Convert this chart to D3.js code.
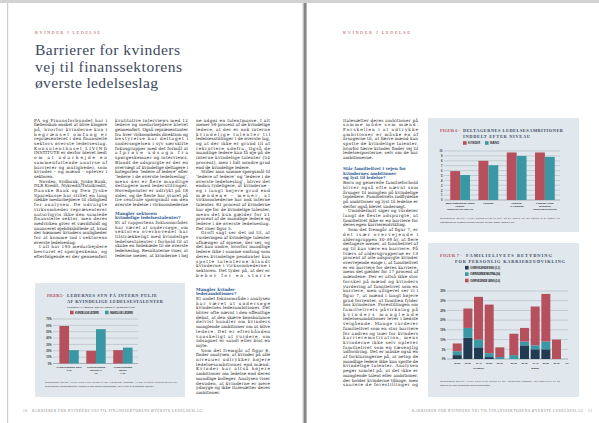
<!DOCTYPE html>
<html lang="da"><head><meta charset="utf-8">
<script src="https://cdn.jsdelivr.net/npm/d3@7/dist/d3.min.js"></script>
<style>html,body{margin:0;padding:0;background:#fff;overflow:hidden}svg{display:block}</style>
</head><body>
<svg id="page" width="599" height="423"></svg>
<script>
// ---------- Figure 5 data ----------
const fig5Categories = ["OVERVEJENDE ENIG|(1-2)", "OVERVEJENDE|NEUTRAL|(3)", "OVERVEJENDE|UENIG|(4-5)"];
const fig5Series = ["KVINDELIGE LEDERE", "MANDLIGE LEDERE"];
const fig5Women = [59, 20, 21];
const fig5Men = [21, 54, 25];
const fig5Ticks = [0, 10, 20, 30, 40, 50, 60, 70];
// ---------- Figure 6 data ----------
const fig6Categories = ["MEDARBEJDERE UDEN|LEDER-|PERSONALEANSVAR", "LEDERE", "LEDERE|AF LEDERE", "LEDERE I DEN|ØVERSTE|LEDELSESGRUPPE"];
const fig6Series = ["KVINDER", "MÆND"];
const fig6Women = [5.9, 8.0, 9.7, 9.7];
const fig6Men = [5.1, 7.1, 9.0, 8.8];
const fig6Ticks = [0, 1, 2, 3, 4, 5, 6, 7, 8, 9, 10];
// ---------- Figure 7 data ----------
const fig7Groups = ["KVINDER", "MÆND"];
const fig7Ages = ["20-29", "30-39", "40-49", "50-59", "60-69"];
const fig7ExtraTick = "70+";
const fig7Series = ["OVERVEJENDE ENIG (1-2)", "OVERVEJENDE NEUTRAL (3-4)", "OVERVEJENDE UENIG (5-6)"];
const fig7WomenAgree    = [2, 11, 6, 1, 0];
const fig7WomenNeutral  = [2, 5, 4, 2, 1];
const fig7WomenDisagree = [4, 10, 22, 25, 5];
const fig7MenAgree      = [0, 7, 5, 5, 0];
const fig7MenNeutral    = [2, 2, 2, 4, 0];
const fig7MenDisagree   = [11, 7, 20, 24.5, 10];
const fig7Ticks = [0, 5, 10, 15, 20, 25, 30, 35];

// ---------- styles ----------
const SERIF = "'Liberation Serif','DejaVu Serif',serif";
const BODY = "'DejaVu Serif','Liberation Serif',serif";
const SANS = "'Liberation Sans','DejaVu Sans',sans-serif";
const C = {red:'#b5505c', teal:'#3a98a5', navy:'#223a52', box:'#e0e8ee', title:'#3d4a5f',
  head:'#2f5a8c', grid:'#a7aeb5', text:'#1a1a1a', foot:'#8a8a8a', small:'#2a2a2a'};

const svg = d3.select('#page');
svg.append('rect').attr('width', 599).attr('height', 423).attr('fill', '#fff');
svg.append('rect').attr('x', 0).attr('y', 0).attr('width', 599).attr('height', 3).attr('fill', '#d2d2d2');
svg.append('rect').attr('x', 7).attr('y', 3).attr('width', 1.2).attr('height', 420).attr('fill', '#cdcdcd');
svg.append('rect').attr('x', 302.6).attr('y', 3).attr('width', 1.2).attr('height', 420).attr('fill', '#c2c2c2');
svg.append('rect').attr('x', 303.8).attr('y', 3).attr('width', 2.8).attr('height', 420).attr('fill', '#858585');

// ---------- headers, title, footers ----------
function fitText(g, x, y, w, txt, attrs) {
  const t = g.append('text').attr('x', x).attr('y', y).text(txt);
  Object.entries(attrs).forEach(([k, v]) => t.attr(k, v));
  if (w) t.attr('textLength', w).attr('lengthAdjust', 'spacing');
  return t;
}
const kick = {'font-family': SERIF, 'font-size': 4.4, fill: C.red};
fitText(svg, 35, 34, 65, 'KVINDER I LEDELSE', kick);
fitText(svg, 343, 34, 67, 'KVINDER I LEDELSE', kick);

const tt = {'font-family': SERIF, 'font-size': 15.6, fill: C.title};
fitText(svg, 35, 55, 145, 'Barrierer for kvinders', tt);
fitText(svg, 35, 71.5, 147, 'vej til finanssektorens', tt);
fitText(svg, 35, 88, 123, 'øverste ledelseslag', tt);

const ft = {'font-family': SERIF, 'font-size': 3.6, fill: C.foot};
fitText(svg, 23, 411.5, 179, '10  ·  BARRIERER FOR KVINDERS VEJ TIL FINANSSEKTORENS ØVERSTE LEDELSESLAG', ft);
fitText(svg, 412, 411.5, 180, 'BARRIERER FOR KVINDERS VEJ TIL FINANSSEKTORENS ØVERSTE LEDELSESLAG  ·  11', ft);

// ---------- body text ----------
const FS = 4.2, LH = 4.7, BASE = 3.5, IND = 5;
const meas = svg.append('text').attr('font-family', BODY).attr('font-size', FS).attr('visibility', 'hidden');
function tw(s, bold) { meas.attr('font-weight', bold ? 'bold' : 'normal').text(s); return meas.node().getComputedTextLength(); }

function flow(seg) {
  const g = svg.append('g').attr('font-family', BODY).attr('font-size', FS).attr('fill', C.text);
  let y = seg.y;
  const fits = () => y + LH <= seg.maxY + 0.6;
  seg.blocks.forEach(b => {
    if (b.h) {
      b.h.forEach(line => {
        if (!fits()) return;
        g.append('text').attr('x', seg.x).attr('y', y + BASE).attr('font-weight', 'bold').attr('fill', C.head).text(line);
        y += LH;
      });
      return;
    }
    const words = b.p.split(/\s+/).filter(Boolean);
    let i = 0, first = true;
    while (i < words.length && fits()) {
      const ind = (first && b.indent) ? IND : 0;
      const avail = seg.w - ind;
      const line = [words[i]]; i++;
      while (i < words.length && tw(line.concat(words[i]).join(' ')) <= avail) { line.push(words[i]); i++; }
      const t = g.append('text').attr('x', seg.x + ind).attr('y', y + BASE).text(line.join(' '));
      if (i < words.length && line.length > 1) t.attr('textLength', avail).attr('lengthAdjust', 'spacing');
      y += LH; first = false;
    }
  });
}

flow({x: 34, y: 118, w: 73, maxY: 259, blocks: [
  {p: 'FA og Finansforbundet har i fællesskab ønsket at blive klogere på, hvorfor kvinderne kun i begrænset omfang er repræsenteret i den finansielle sektors øverste ledelseslag. Konsulenthuset LIVING INSTITUTE er derfor blevet bedt om at udarbejde en sammenfattende analyse af barrierer og muligheder, som kvinder – og mænd – oplever i sektoren.'},
  {indent: true, p: 'Nordea, Sydbank, Jyske Bank, DLR Kredit, Nykredit/Totalkredit, Danske Bank og Den Jyske Sparekasse har stillet en lang række medarbejdere til rådighed for analysen. De udvalgte virksomheder repræsenterer naturligvis ikke den samlede finansielle sektor, men deres medvirken giver et værdifuldt og nuanceret øjebliksbillede af, hvad der hæmmer kvinders muligheder for at komme ind i sektorens øverste ledelseslag.'},
  {indent: true, p: 'I alt har 195 medarbejdere besvaret et spørgeskema, og efterfølgende er der gennemført en række uddybende samtaler med ledere og medarbejdere fra de deltagende virksomheder, som har bidraget med deres erfaringer og synspunkter på emnet.'}
]});
flow({x: 115, y: 118, w: 73, maxY: 208, blocks: [
  {p: 'kvalitative interviews med 12 ledere og medarbejdere blevet gennemført. Også repræsentanter fra hver virksomheds direktion og bestyrelse har deltaget i undersøgelsen i syv særskilte fokusgrupper med det formål at afprøve udsagn fra spørgeskemaer og interviews. Blandt de adspurgte er der en overvægt af kvindelige deltagere i kategorien ‘ledere af ledere’ eller ‘ledere i de øverste ledelseslag’, mens der er flere mandlige deltagere med lederstillinger. Hovedpointer er udtrykt på 18 sider, og de fleste har svaret på tre centrale spørgsmål om den øverste ledelse i virksomhederne og deres egne erfaringer. Analysen giver dermed et bredt billede af de barrierer, som kvinder og mænd oplever på vej mod toppen af sektoren.'}
]});
flow({x: 115, y: 211, w: 73, maxY: 259, blocks: [
  {h: ['Mangler sektoren', 'kvindelige ledelsestalenter?']},
  {p: 'Et af rapportens fokusområder har været at undersøge, om sektoren overhovedet har tilstrækkeligt med kvindelige ledelsestalenter i forhold til at skabe en fødekæde til de øverste ledelseslag. Resultaterne viser, at lederne mener, at kvinderne i høj grad udgør en talentmasse for sektoren.'}
]});
flow({x: 196, y: 118, w: 74, maxY: 280, blocks: [
  {p: 'ne udgør en talentmasse. I alt mener 59 procent af de kvindelige ledere, at der er nok interne kvindelige talenter til ledelsesstillinger i de øverste lag, og at der ikke er grund til at rekruttere udefra. Også de mandlige ledere kan få øje på de interne kvindelige talenter (54 procent), men i lidt mindre grad end de kvindelige ledere.'},
  {indent: true, p: 'Stiller man samme spørgsmål til ‘ledere af ledere’ og ‘ledere i de øverste ledelseslag’, bliver det endnu tydeligere, at kvinderne – og i langt højere grad end mændene – mener, at virksomhederne har nok interne talenter. 61 procent af kvinderne har øje for de kvindelige talenter, mens det kun gælder for 21 procent af de mandlige ledere og ledere i de øverste ledelseslag. Det viser figur 5.'},
  {indent: true, p: 'Groft sagt ser det ud til, at vurderingen af kvindelige talenter afhænger af øjnene, der ser, og det kan undre, hvorfor mandlige ledere ikke i samme omfang som deres kvindelige pendanter kan spotte talenterne blandt kvinderne i virksomhederne i sektoren. Det tyder på, at der er behov for en større opmærksomhed på, hvordan talenter identificeres og udvikles, så de kvindelige talenter ikke går tabt på vejen mod de øverste ledelseslag.'}
]});
flow({x: 196, y: 287, w: 74, maxY: 398, blocks: [
  {h: ['Mangler kvinder', 'lederambitioner?']},
  {p: 'Et andet fokusområde i analysen har været at undersøge kvindernes lederambitioner. Det bliver ofte nævnt i den offentlige debat, at den skæve kønsbalance delvist handler om kvinders manglende ambitioner om at blive ledere. Det er efterhånden vanskeligt at vurdere, om udsagnet er sandt eller blot en myte.'},
  {indent: true, p: 'Som det fremgår af figur 6, finder analysen, at kvinder på alle niveauer udtrykker højere ledelsesambitioner end mænd. Kvinder har altså højere ambitioner om ledelse end deres mandlige kolleger. Analysen viser desuden, at kvinderne er mere ydmyge og ikke italesætter deres ambitioner.'}
]});
flow({x: 343, y: 118, w: 75, maxY: 161, blocks: [
  {p: 'italesætter deres ambitioner på samme måde som mænd. Forskellen i at udtrykke ambitioner er måske én af årsagerne til, at færre mænd kan spotte de kvindelige talenter, hvorfor færre kvinder finder vej til ledelsesposterne, selv om de har ambitionerne.'}
]});
flow({x: 343, y: 166.5, w: 75, maxY: 391, blocks: [
  {h: ['Står familielivet i vejen for', 'kvindernes ambitioner', 'og lyst til ledelse?']},
  {p: 'Børn og generelle familieforhold bliver også ofte nævnt som årsager til manglen på kvindelige topledere. Familielivets indflydelse på ambitioner og lyst til ledelse er derfor også blevet undersøgt.'},
  {indent: true, p: 'Umiddelbart siger og vurderer langt de fleste adspurgte, at familielivet ikke er en barriere for deres egen karriereudvikling.'},
  {indent: true, p: 'Som det fremgår af figur 7, er det især overvejende i aldersgruppen 30-39 år, at flere deltagere mener, at familielivet af og til kan være en barriere. På tværs af aldersgrupperne er 13 procent af alle adspurgte kvinder overvejende enige i, at familielivet er en barriere for deres karriere, mens det gælder for 17 procent af mændene. Der er altså ikke stor forskel på mænd og kvinders vurdering af familielivet som en barriere, men alligevel ser vi i figur 7, at mænd i langt højere grad forventer, at familien fylder hos kvinderne. Forestillingen om familielivets påvirkning på kvinders manglende ledelsesambitioner lever i bedste velgående. Mange vurderer familielivet som en stor barriere for andres og især for kvinders karrieremotivation, mens kvinderne ikke selv oplever familielivet som en væsentlig udfordring. Det er måske også én af forklaringerne på, at netop de mandlige ledere ikke kan spotte de kvindelige talenter. Analysen peger samlet på, at det ikke er manglende talent eller ambitioner, der holder kvinderne tilbage, men snarere de forestillinger og vurderinger, der præger udvælgelsen af ledere i sektoren. Det er derfor afgørende, at virksomhederne arbejder målrettet med at synliggøre og udvikle de kvindelige ledelsestalenter.'}
]});

// ---------- chart helpers ----------
function figTitle(g, o) {
  const a = {'font-family': SERIF, 'font-size': 4.4, 'font-weight': 'bold'};
  fitText(g, o.x, o.y, o.redW, 'FIGUR ' + o.n + ' ·', Object.assign({fill: C.red}, a));
  fitText(g, o.x1, o.y, o.w1, o.l1, Object.assign({fill: C.title}, a));
  fitText(g, o.x2, o.y + 6, o.w2, o.l2, Object.assign({fill: C.title}, a));
}
const lab = {'font-family': SANS, 'font-size': 2.6, fill: C.small, 'font-weight': 'bold'};
function legendItem(g, x, y, color, txt, w) {
  g.append('rect').attr('x', x).attr('y', y - 1.8).attr('width', 3.6).attr('height', 3.6).attr('fill', color);
  fitText(g, x + 5, y + 1, w, txt, lab);
}
function yGrid(g, y, ticks, x0, x1, fmt) {
  ticks.forEach(t => {
    g.append('line').attr('x1', x0).attr('x2', x1).attr('y1', y(t)).attr('y2', y(t))
      .attr('stroke', t === 0 ? '#6f777e' : C.grid).attr('stroke-width', 0.5);
  });
  const ax = g.append('g').attr('transform', `translate(${x0 - 1.5},0)`)
    .call(d3.axisLeft(y).tickValues(ticks).tickSize(0).tickPadding(0).tickFormat(fmt));
  ax.select('.domain').remove();
  ax.selectAll('text').attr('font-family', SANS).attr('font-size', 2.6).attr('font-weight', 'bold').attr('fill', C.small);
}
function catLabels(g, x, cats, y0) {
  cats.forEach(c => {
    c.split('|').forEach((l, i) => {
      g.append('text').attr('x', x(c) + x.bandwidth() / 2).attr('y', y0 + i * 2.9).attr('text-anchor', 'middle')
        .attr('font-family', SANS).attr('font-size', 2.5).attr('font-weight', 'bold').attr('fill', C.small).text(l);
    });
  });
}
function note(g, x, y, w, l1, l2) {
  const a = {'font-family': SANS, 'font-size': 2.5, fill: C.small};
  fitText(g, x, y, w, l1, a);
  fitText(g, x, y + 4.2, null, l2, a);
}

// ---------- Figure 5 ----------
{
  const g = svg.append('g');
  g.append('rect').attr('x', 35).attr('y', 283).attr('width', 150).attr('height', 114).attr('fill', C.box);
  figTitle(g, {n: 5, x: 47, y: 296.5, redW: 17, x1: 67, w1: 90, l1: 'LEDERNES SYN PÅ INTERN PULJE', x2: 67, w2: 96, l2: 'AF KVINDELIGE LEDELSESTALENTER'});
  fitText(g, 67, 307.5, 68, 'PROCENT AF LEDERE, DER SVAREDE PÅ SPØRGSMÅLET', {'font-family': SANS, 'font-size': 2.4, fill: C.small});
  legendItem(g, 70, 312.5, C.red, fig5Series[0], 24);
  legendItem(g, 105, 312.5, C.teal, fig5Series[1], 23);
  const y = d3.scaleLinear().domain([0, 70]).range([363.5, 319]);
  const x = d3.scaleBand().domain(fig5Categories).range([54, 138]).paddingInner(0.28).paddingOuter(0.2);
  const xs = d3.scaleBand().domain([0, 1]).range([0, x.bandwidth()]);
  yGrid(g, y, fig5Ticks, 53, 138, d => d + '%');
  const rows = fig5Categories.map((c, i) => ({c, v: [fig5Women[i], fig5Men[i]]}));
  rows.forEach(r => r.v.forEach((v, j) => {
    g.append('rect').attr('x', x(r.c) + xs(j)).attr('width', xs.bandwidth()).attr('y', y(v)).attr('height', y(0) - y(v))
      .attr('fill', j ? C.teal : C.red);
  }));
  catLabels(g, x, fig5Categories, 368);
  note(g, 45, 383, 132, 'Spørgsmål stillet: "Hvor enig eller uenig er du i følgende udsagn: Vi har et stort internt talent for', 'af kvindelige ledelsestalenter i forhold til den interne talentmasse, der er nok til at besætte ledelse."');
}

// ---------- Figure 6 ----------
{
  const g = svg.append('g');
  g.append('rect').attr('x', 428).attr('y', 118).attr('width', 151).attr('height', 114).attr('fill', C.box);
  figTitle(g, {n: 6, x: 440, y: 131.5, redW: 20, x1: 463, w1: 100, l1: 'DELTAGERNES LEDELSESAMBITIONER', x2: 463, w2: 67, l2: 'INDDELT EFTER NIVEAU'});
  legendItem(g, 463, 143, C.red, fig6Series[0], 12);
  legendItem(g, 485, 143, C.teal, fig6Series[1], 9);
  const y = d3.scaleLinear().domain([0, 10]).range([200, 151]);
  const x = d3.scaleBand().domain(fig6Categories).range([446, 559]).paddingInner(0.3).paddingOuter(0.15);
  const xs = d3.scaleBand().domain([0, 1]).range([0, x.bandwidth()]);
  yGrid(g, y, fig6Ticks, 444, 560, d => d);
  fig6Categories.forEach((c, i) => [fig6Women[i], fig6Men[i]].forEach((v, j) => {
    g.append('rect').attr('x', x(c) + xs(j)).attr('width', xs.bandwidth()).attr('y', y(v)).attr('height', y(0) - y(v))
      .attr('fill', j ? C.teal : C.red);
  }));
  catLabels(g, x, fig6Categories, 204);
  note(g, 440, 219, 120, 'Spørgsmål stillet: "Hvor sandsynligt er det, at du inden for de næste 5 år søger en', 'lederstilling på et højere niveau end det, du har i dag?" (skala 0-10)');
}

// ---------- Figure 7 ----------
{
  const g = svg.append('g');
  g.append('rect').attr('x', 428).attr('y', 243).attr('width', 151).attr('height', 154).attr('fill', C.box);
  figTitle(g, {n: 7, x: 440, y: 257, redW: 22, x1: 466, w1: 86, l1: 'FAMILIELIVETS BETYDNING', x2: 455, w2: 110, l2: 'FOR PERSONLIG KARRIEREUDVIKLING'});
  const cols = [C.navy, C.teal, C.red];
  fig7Series.forEach((s, i) => legendItem(g, 465, 267.7 + i * 6.4, cols[i], s, 30));
  const y = d3.scaleLinear().domain([0, 35]).range([359, 291]);
  const gx = d3.scaleBand().domain(fig7Groups).range([452.7, 561]).paddingInner(0.088);
  const ax = d3.scaleBand().domain(fig7Ages).range([0, gx.bandwidth()]).paddingInner(0.155);
  yGrid(g, y, fig7Ticks, 447, 568, d => d + '%');
  const data = {
    KVINDER: fig7Ages.map((a, i) => ({a, v: [fig7WomenAgree[i], fig7WomenNeutral[i], fig7WomenDisagree[i]]})),
    'MÆND': fig7Ages.map((a, i) => ({a, v: [fig7MenAgree[i], fig7MenNeutral[i], fig7MenDisagree[i]]}))
  };
  const tl = {'font-family': SANS, 'font-size': 2.4, 'font-weight': 'bold', fill: C.small, 'text-anchor': 'middle'};
  fig7Groups.forEach(grp => {
    data[grp].forEach(d => {
      let acc = 0;
      d.v.forEach((v, k) => {
        if (v > 0) g.append('rect').attr('x', gx(grp) + ax(d.a)).attr('width', ax.bandwidth())
          .attr('y', y(acc + v)).attr('height', y(acc) - y(acc + v)).attr('fill', cols[k]);
        acc += v;
      });
      fitText(g, gx(grp) + ax(d.a) + ax.bandwidth() / 2, 363.5, null, d.a, tl);
    });
    fitText(g, gx(grp) + gx.bandwidth() / 2, 369, null, grp, tl);
  });
  fitText(g, gx('MÆND') + ax('60-69') + ax.step() + ax.bandwidth() / 2, 363.5, null, fig7ExtraTick, tl);
  note(g, 440, 382, 120, 'Spørgsmål stillet: "Hvor enig eller uenig er du i følgende udsagn: Mit familieliv er en', 'barriere for min personlige karriereudvikling?"');
}
meas.remove();
</script>
</body></html>
